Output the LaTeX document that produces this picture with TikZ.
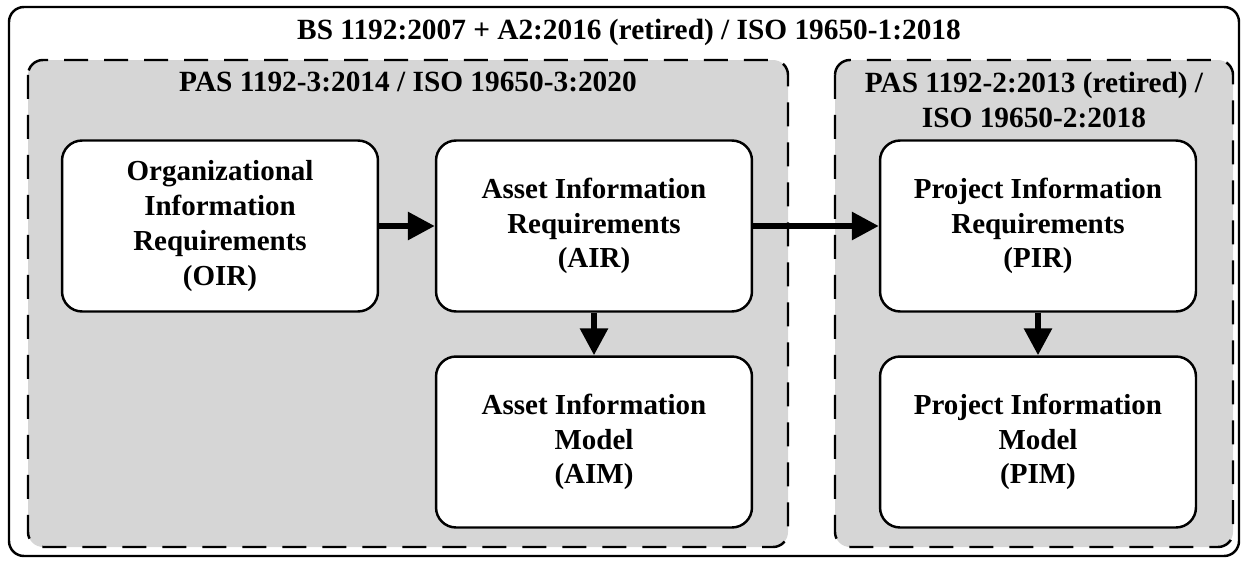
\documentclass[tikz,border=0pt]{standalone}
\usepackage{fontspec}
\setmainfont{Liberation Serif}
\usetikzlibrary{arrows.meta}
\definecolor{panelgrey}{RGB}{214,214,214}
\tikzset{
  outerframe/.style={line width=1.4pt, rounded corners=0.3cm}, 
  stdframe/.style={line width=1.4pt, dash pattern=on 0.48cm off 0.32cm, fill=panelgrey, rounded corners=0.3cm}, 
  reqbox/.style={draw, line width=1.4pt, fill=white, rounded corners=0.4cm, minimum width=6.32cm, minimum height=3.42cm,
                 align=center, font=\fontsize{16.5}{19.8}\selectfont\bfseries}, 
  stdlabel/.style={align=center, font=\fontsize{16.7}{20.2}\selectfont\bfseries}, 
  flow/.style={line width=3.4pt, -{Triangle[length=0.54cm, width=0.54cm]}} 
}

\begin{document}
\begin{tikzpicture}[x=0.02cm, y=-0.02cm]
    \useasboundingbox (0,0) rectangle (1247,561);

    % frames
    \draw[outerframe] (9,7) rectangle (1239,556);
    \draw[stdframe] (28,60) rectangle (788,547);
    \draw[stdframe] (835,60) rectangle (1233,547);

    \node[stdlabel] (bs) at (629,32) {BS 1192:2007 + A2:2016 (retired) / ISO 19650-1:2018};
    \node[stdlabel] (pas3) at (408,82) {PAS 1192-3:2014 / ISO 19650-3:2020};
    \node[stdlabel] (pas2) at (1034,100) {PAS 1192-2:2013 (retired) /\\ISO 19650-2:2018};

    % requirements and models
    \node[reqbox] (oir) at (220,226) {Organizational\\Information\\Requirements\\(OIR)};
    \node[reqbox] (air) at (594,226) {Asset Information\\Requirements\\(AIR)};
    \node[reqbox] (aim) at (594,442) {Asset Information\\Model\\(AIM)};
    \node[reqbox] (pir) at (1038,226) {Project Information\\Requirements\\(PIR)};
    \node[reqbox] (pim) at (1038,442) {Project Information\\Model\\(PIM)};

    \draw[flow] (oir) -- (air);
    \draw[flow] (air) -- (pir);
    \draw[flow] (air) -- (aim);
    \draw[flow] (pir) -- (pim);
  \end{tikzpicture}
\end{document}
